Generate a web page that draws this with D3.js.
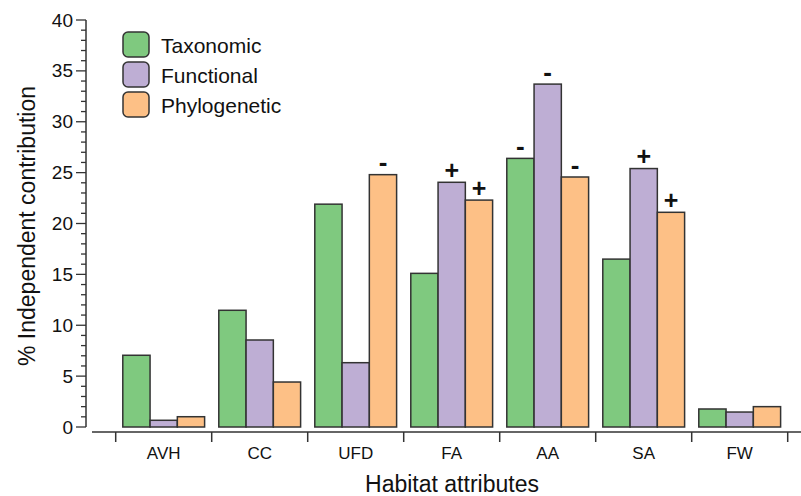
<!DOCTYPE html>
<html>
<head>
<meta charset="utf-8">
<script src="https://cdn.jsdelivr.net/npm/d3@7"></script>
<style>
  html, body { margin: 0; padding: 0; background: #fff; }
  svg { display: block; font-family: "Liberation Sans", Arial, sans-serif; }
</style>
</head>
<body>
<svg id="chart" width="801" height="496"></svg>
<script>
// Habitat attributes vs % independent contribution, three diversity facets.
const categories = ['AVH', 'CC', 'UFD', 'FA', 'AA', 'SA', 'FW'];
const seriesNames = ['Taxonomic', 'Functional', 'Phylogenetic'];
const taxonomic = [7.05, 11.47, 21.9, 15.1, 26.4, 16.5, 1.77];
const functional = [0.66, 8.55, 6.32, 24.05, 33.7, 25.4, 1.47];
const phylogenetic = [1.01, 4.42, 24.8, 22.3, 24.57, 21.1, 2.0];
// sign markers above bars: [category, series, sign]
const signs = [
  ['UFD', 'Phylogenetic', '-'],
  ['FA', 'Functional', '+'],
  ['FA', 'Phylogenetic', '+'],
  ['AA', 'Taxonomic', '-'],
  ['AA', 'Functional', '-'],
  ['AA', 'Phylogenetic', '-'],
  ['SA', 'Functional', '+'],
  ['SA', 'Phylogenetic', '+'],
];
const yTicks = [0, 5, 10, 15, 20, 25, 30, 35, 40];

const colors = { Taxonomic: '#7fc97f', Functional: '#beaed4', Phylogenetic: '#fdc086' };
const values = { Taxonomic: taxonomic, Functional: functional, Phylogenetic: phylogenetic };
const stroke = '#333';

const svg = d3.select('#chart');

const x = d3.scaleBand().domain(categories).range([115.7, 787.7]).paddingInner(0).paddingOuter(0);
const xs = d3.scaleBand().domain(seriesNames).range([0, x.bandwidth()]).paddingOuter(0.26).paddingInner(0);
const y = d3.scaleLinear().domain([0, 40]).range([427, 20]);

// bars
const rows = [];
categories.forEach((c, i) => seriesNames.forEach(s => rows.push({ c, s, v: values[s][i] })));
svg.append('g').selectAll('rect').data(rows).join('rect')
  .attr('x', d => x(d.c) + xs(d.s))
  .attr('y', d => y(d.v))
  .attr('width', xs.bandwidth())
  .attr('height', d => y(0) - y(d.v))
  .attr('fill', d => colors[d.s])
  .attr('stroke', stroke)
  .attr('stroke-width', 1.5);

// sign markers
svg.append('g').selectAll('text').data(signs).join('text')
  .attr('x', d => x(d[0]) + xs(d[1]) + xs.bandwidth() / 2)
  .attr('y', d => y(values[d[1]][categories.indexOf(d[0])]) - 12.5)
  .attr('text-anchor', 'middle')
  .attr('dominant-baseline', 'central')
  .attr('font-size', d => d[2] === '+' ? 25 : 26)
  .attr('font-weight', 'bold')
  .attr('fill', '#111')
  .text(d => d[2]);

// y axis
const yAxis = svg.append('g').attr('transform', 'translate(86,0)');
yAxis.append('line').attr('x1', 0).attr('x2', 0).attr('y1', y(0)).attr('y2', y(40))
  .attr('stroke', stroke).attr('stroke-width', 1.5);
yAxis.selectAll('line.minor').data(d3.range(0, 41)).join('line')
  .attr('class', 'minor')
  .attr('x1', d => d % 5 === 0 ? -10 : -5).attr('x2', 0)
  .attr('y1', d => y(d)).attr('y2', d => y(d))
  .attr('stroke', stroke).attr('stroke-width', 1.3);
yAxis.selectAll('text').data(yTicks).join('text')
  .attr('x', -13).attr('y', d => y(d))
  .attr('dominant-baseline', 'central')
  .attr('text-anchor', 'end')
  .attr('font-size', 19).attr('fill', '#111')
  .text(d => d);

// x axis
const xAxis = svg.append('g').attr('transform', 'translate(0,432)');
xAxis.append('line').attr('x1', 92).attr('x2', 801).attr('y1', 0).attr('y2', 0)
  .attr('stroke', stroke).attr('stroke-width', 1.5);
const bounds = categories.map(c => x(c)).concat([x(categories[categories.length - 1]) + x.bandwidth()]);
xAxis.selectAll('line.tick').data(bounds).join('line')
  .attr('class', 'tick')
  .attr('x1', d => d).attr('x2', d => d).attr('y1', 0).attr('y2', 10)
  .attr('stroke', stroke).attr('stroke-width', 1.5);
xAxis.selectAll('text').data(categories).join('text')
  .attr('x', d => x(d) + x.bandwidth() / 2).attr('y', 27)
  .attr('text-anchor', 'middle')
  .attr('font-size', 17).attr('fill', '#111')
  .text(d => d);

// axis titles
svg.append('text')
  .attr('transform', 'translate(35,226) rotate(-90)')
  .attr('text-anchor', 'middle')
  .attr('font-size', 23).attr('fill', '#111')
  .text('% Independent contribution');
svg.append('text')
  .attr('x', 452).attr('y', 492)
  .attr('text-anchor', 'middle')
  .attr('font-size', 23).attr('fill', '#111')
  .text('Habitat attributes');

// legend
const legend = svg.append('g').selectAll('g').data(seriesNames).join('g')
  .attr('transform', (d, i) => `translate(123,${32 + i * 30})`);
legend.append('rect')
  .attr('width', 26).attr('height', 25).attr('rx', 5)
  .attr('fill', d => colors[d]).attr('stroke', stroke).attr('stroke-width', 1.5);
legend.append('text')
  .attr('x', 38).attr('y', 13).attr('dominant-baseline', 'central')
  .attr('font-size', 21).attr('fill', '#111')
  .text(d => d);
</script>
</body>
</html>
